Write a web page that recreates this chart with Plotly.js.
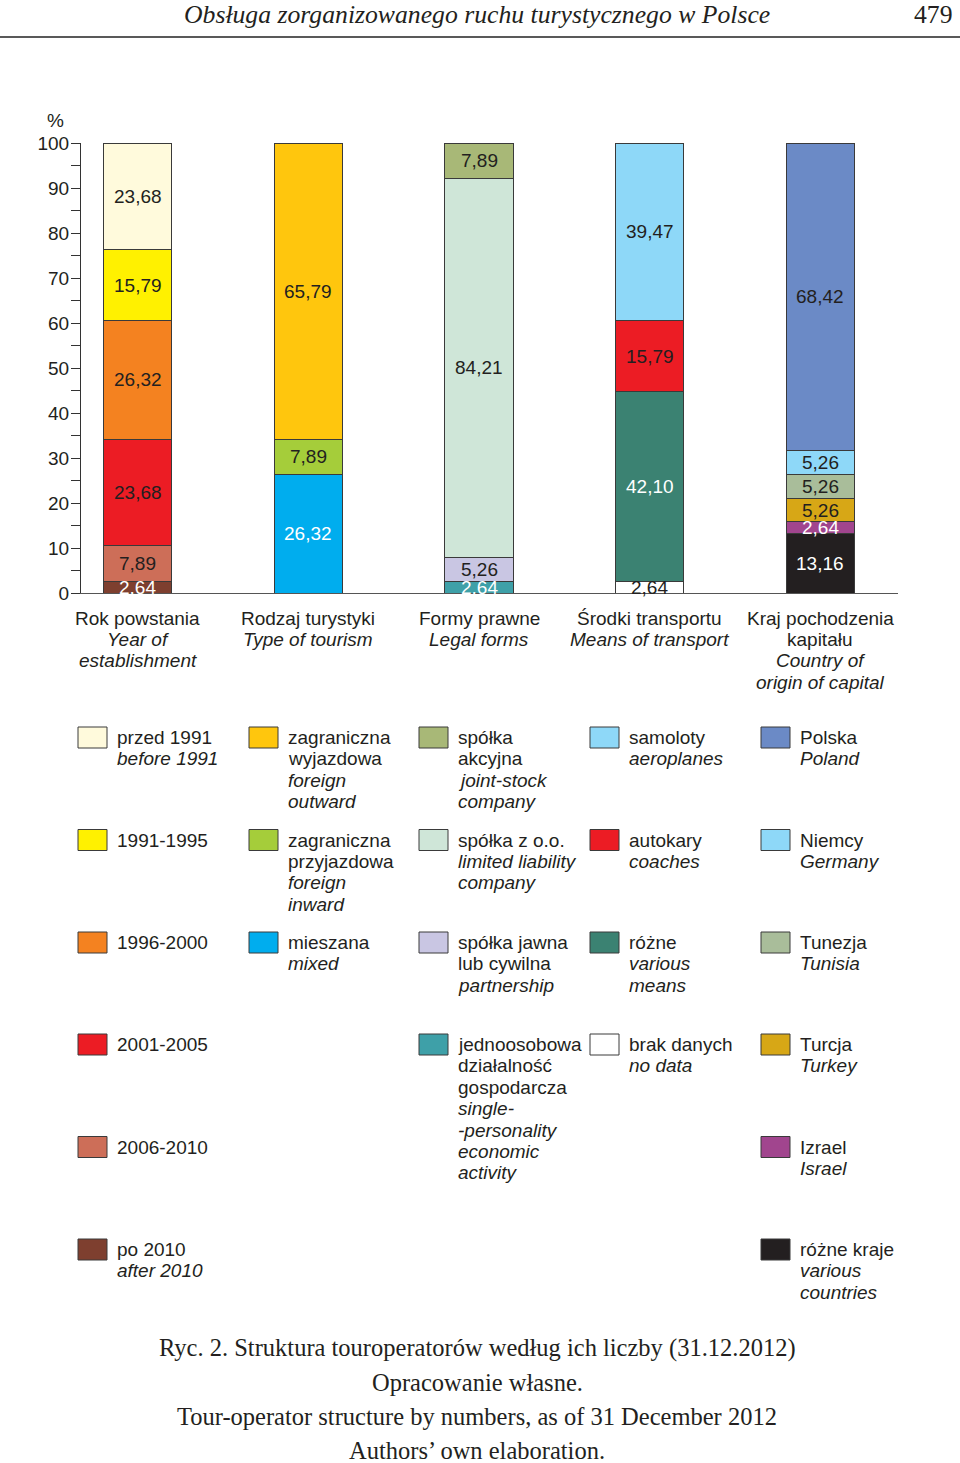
<!DOCTYPE html>
<html>
<head>
<meta charset="utf-8">
<script src="https://cdn.plot.ly/plotly-3.0.1.min.js"></script>
<style>
  html, body { margin: 0; padding: 0; background: #ffffff; }
  #chart { width: 960px; height: 1463px; }
</style>
</head>
<body>
<div id="chart"></div>
<script>
// ---------------- DATA ----------------
const categoryPl = ['Rok powstania', 'Rodzaj turystyki', 'Formy prawne', 'Środki transportu', 'Kraj pochodzenia\nkapitału'];
const categoryEn = ['Year of\nestablishment', 'Type of tourism', 'Legal forms', 'Means of transport', 'Country of\norigin of capital'];

// series listed bottom -> top of each stacked bar
const yearValues = [2.64, 7.89, 23.68, 26.32, 15.79, 23.68];
const yearPl = ['po 2010', '2006-2010', '2001-2005', '1996-2000', '1991-1995', 'przed 1991'];
const yearEn = ['after 2010', '', '', '', '', 'before 1991'];

const tourismValues = [26.32, 7.89, 65.79];
const tourismPl = ['mieszana', 'zagraniczna\nprzyjazdowa', 'zagraniczna\nwyjazdowa'];
const tourismEn = ['mixed', 'foreign\ninward', 'foreign\noutward'];

const legalValues = [2.64, 5.26, 84.21, 7.89];
const legalPl = ['jednoosobowa\ndziałalność\ngospodarcza', 'spółka jawna\nlub cywilna', 'spółka z o.o.', 'spółka\nakcyjna'];
const legalEn = ['single-\n-personality\neconomic\nactivity', 'partnership', 'limited liability\ncompany', 'joint-stock\ncompany'];

const transportValues = [2.64, 42.10, 15.79, 39.47];
const transportPl = ['brak danych', 'różne', 'autokary', 'samoloty'];
const transportEn = ['no data', 'various\nmeans', 'coaches', 'aeroplanes'];

const capitalValues = [13.16, 2.64, 5.26, 5.26, 5.26, 68.42];
const capitalPl = ['różne kraje', 'Izrael', 'Turcja', 'Tunezja', 'Niemcy', 'Polska'];
const capitalEn = ['various\ncountries', 'Israel', 'Turkey', 'Tunisia', 'Germany', 'Poland'];

// ---------------- STYLES ----------------
const yearColors = ['#7E3F2F', '#CD6E58', '#EC1C24', '#F48220', '#FFF100', '#FFFADC'];
const tourismColors = ['#00ADEE', '#A5CD3A', '#FFC60D'];
const legalColors = ['#3EA0A8', '#C9C6E3', '#CFE6D8', '#A8B877'];
const transportColors = ['#FFFFFF', '#3B8272', '#EC1C24', '#8ED8F8'];
const capitalColors = ['#231F20', '#A1458E', '#D7A716', '#A9BD9A', '#8ED8F8', '#6B8AC6'];

const DARK = '#231F20', WHITE = '#FFFFFF';
const yearText = [WHITE, DARK, DARK, DARK, DARK, DARK];
const tourismText = [WHITE, DARK, DARK];
const legalText = [WHITE, DARK, DARK, DARK];
const transportText = [DARK, WHITE, DARK, DARK];
const capitalText = [WHITE, WHITE, DARK, DARK, DARK, DARK];

const groups = [
  {values: yearValues, pl: yearPl, en: yearEn, colors: yearColors, text: yearText},
  {values: tourismValues, pl: tourismPl, en: tourismEn, colors: tourismColors, text: tourismText},
  {values: legalValues, pl: legalPl, en: legalEn, colors: legalColors, text: legalText},
  {values: transportValues, pl: transportPl, en: transportEn, colors: transportColors, text: transportText},
  {values: capitalValues, pl: capitalPl, en: capitalEn, colors: capitalColors, text: capitalText}
];

// ---------------- GEOMETRY ----------------
const W = 960, H = 1463;
const ML = 81, MR = 62, MT = 143, MB = 870;
const PW = W - ML - MR, PH = H - MT - MB;
const px2x = p => (p - ML) / PW;
const py2y = p => (H - MB - p) / PH;

const SANS = 'Liberation Sans, Arial, sans-serif';
const SERIF = 'Liberation Serif, Times New Roman, serif';
const fmt = v => v.toFixed(2).replace('.', ',');

const traces = [];
const annotations = [];
const shapes = [];

groups.forEach((g, ci) => {
  let cum = 0;
  g.values.forEach((v, si) => {
    traces.push({
      type: 'bar', x: [ci], y: [v], width: 0.399,
      marker: {color: g.colors[si], line: {color: '#3a3a3a', width: 1}},
      hoverinfo: 'skip', showlegend: false
    });
    annotations.push({
      x: ci, y: cum + v / 2, xref: 'x', yref: 'y', showarrow: false,
      text: fmt(v), font: {family: SANS, size: 19, color: g.text[si]},
      xanchor: 'center', yanchor: 'middle'
    });
    cum += v;
  });
});

// category labels under bars
const LINE = 21.4;
groups.forEach((g, ci) => {
  const lines = categoryPl[ci].split('\n').map(t => ({t, it: false}))
    .concat(categoryEn[ci].split('\n').map(t => ({t, it: true})));
  lines.forEach((ln, k) => {
    annotations.push({
      x: ci, y: py2y(618 + k * LINE), xref: 'x', yref: 'paper', showarrow: false,
      text: ln.it ? '<i>' + ln.t + '</i>' : ln.t,
      font: {family: SANS, size: 19, color: DARK}, xanchor: 'center', yanchor: 'middle'
    });
  });
});

// '%' label
annotations.push({x: px2x(55), y: py2y(121), xref: 'paper', yref: 'paper', showarrow: false,
  text: '%', font: {family: SANS, size: 19, color: DARK}, xanchor: 'center', yanchor: 'middle'});

// custom legend
const colX = [78, 249, 419, 590, 761];
const rowY = [727, 829.5, 932, 1034, 1136.5, 1239];
groups.forEach((g, ci) => {
  const n = g.values.length;
  for (let r = 0; r < n; r++) {
    const si = n - 1 - r;   // top of stack first
    const x0 = colX[ci], y0 = rowY[r];
    shapes.push({type: 'rect', xref: 'paper', yref: 'paper',
      x0: px2x(x0), x1: px2x(x0 + 29), y0: py2y(y0), y1: py2y(y0 + 21),
      fillcolor: g.colors[si], line: {color: '#3a3a3a', width: 1}});
    const lines = g.pl[si].split('\n').map(t => ({t, it: false}));
    if (g.en[si]) g.en[si].split('\n').forEach(t => lines.push({t, it: true}));
    lines.forEach((ln, k) => {
      annotations.push({
        x: px2x(x0 + 37), y: py2y(y0 + 10.5 + k * LINE), xref: 'paper', yref: 'paper', showarrow: false,
        text: ln.it ? '<i>' + ln.t + '</i>' : ln.t,
        font: {family: SANS, size: 19, color: DARK}, xanchor: 'left', yanchor: 'middle'
      });
    });
  }
});

// page header
annotations.push({x: px2x(477), y: py2y(14), xref: 'paper', yref: 'paper', showarrow: false,
  text: '<i>Obsługa zorganizowanego ruchu turystycznego w Polsce</i>',
  font: {family: SERIF, size: 25.7, color: DARK}, xanchor: 'center', yanchor: 'middle'});
annotations.push({x: px2x(955), y: py2y(14), xref: 'paper', yref: 'paper', showarrow: false,
  text: '479', font: {family: SERIF, size: 25.7, color: DARK}, xanchor: 'right', yanchor: 'middle'});
shapes.push({type: 'line', xref: 'paper', yref: 'paper', x0: px2x(0), x1: px2x(960),
  y0: py2y(37), y1: py2y(37), line: {color: '#222', width: 1.5}});

// caption
const caption = ['Ryc. 2. Struktura touroperatorów według ich liczby (31.12.2012)', 'Opracowanie własne.',
  'Tour-operator structure by numbers, as of 31 December 2012', 'Authors’ own elaboration.'];
caption.forEach((t, k) => {
  annotations.push({x: px2x(477), y: py2y(1348 + k * 34.2), xref: 'paper', yref: 'paper', showarrow: false,
    text: t, font: {family: SERIF, size: 24.5, color: DARK}, xanchor: 'center', yanchor: 'middle'});
});

const layout = {
  width: W, height: H,
  margin: {l: ML, r: MR, t: MT, b: MB, pad: 0},
  paper_bgcolor: '#ffffff', plot_bgcolor: '#ffffff',
  barmode: 'stack', showlegend: false, hovermode: false,
  xaxis: {range: [-0.334, 4.457], showticklabels: false, ticks: '', showgrid: false, zeroline: false,
    showline: true, linecolor: '#555', linewidth: 1, fixedrange: true},
  yaxis: {range: [0, 100], dtick: 10, tick0: 0, ticks: 'outside', ticklen: 9, tickwidth: 1, tickcolor: '#333',
    ticklabelstandoff: -2,
    showline: true, linecolor: '#333', linewidth: 1, showgrid: false, zeroline: false,
    tickfont: {family: SANS, size: 19, color: DARK},
    minor: {dtick: 5, tick0: 0, ticks: 'outside', ticklen: 9, tickwidth: 1, tickcolor: '#333', showgrid: false},
    fixedrange: true},
  annotations, shapes
};

Plotly.newPlot('chart', traces, layout, {staticPlot: true, displayModeBar: false});
</script>
</body>
</html>
